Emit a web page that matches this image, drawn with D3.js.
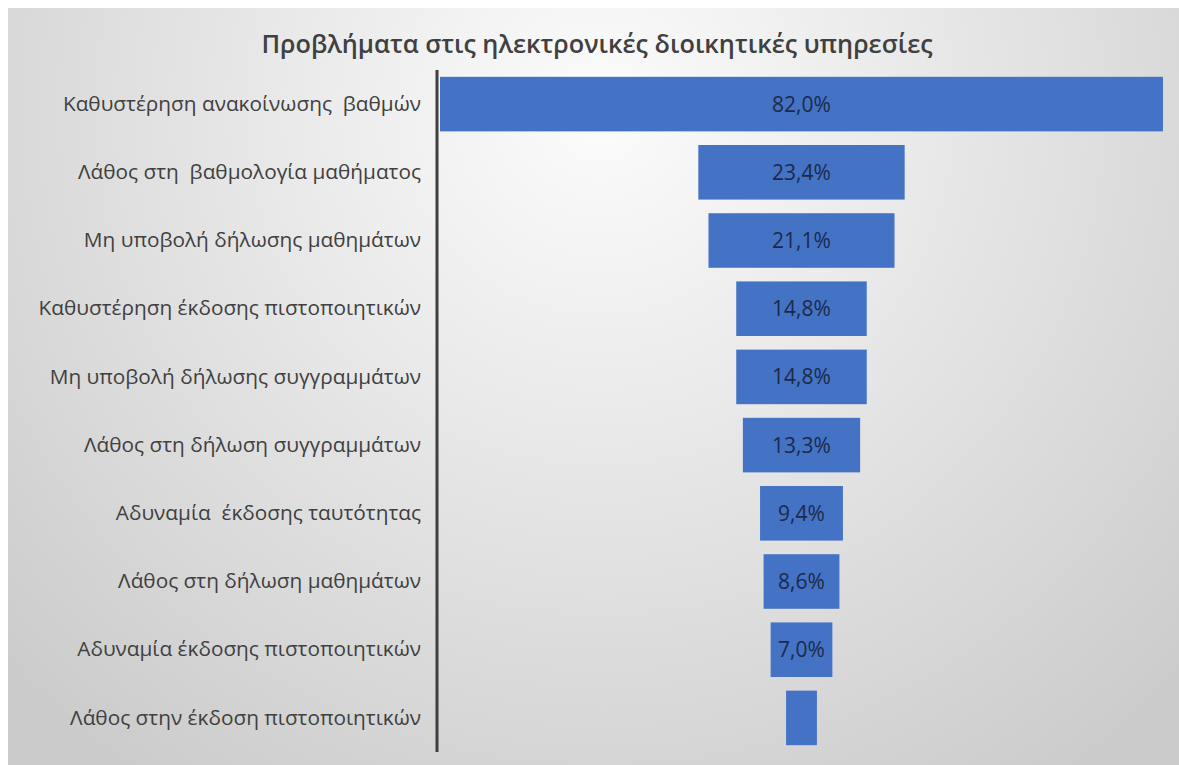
<!DOCTYPE html>
<html>
<head>
<meta charset="utf-8">
<script src="https://cdn.jsdelivr.net/npm/d3@7/dist/d3.min.js"></script>
<style>
  html, body { margin: 0; padding: 0; background: #ffffff; }
  svg { display: block; }
  svg text { white-space: pre; }
</style>
</head>
<body>
<svg id="chart" width="1179" height="765"></svg>
<script>
// Problems reported with the electronic administrative services (share of respondents, %)
const categories = [
  "Καθυστέρηση ανακοίνωσης  βαθμών",
  "Λάθος στη  βαθμολογία μαθήματος",
  "Μη υποβολή δήλωσης μαθημάτων",
  "Καθυστέρηση έκδοσης πιστοποιητικών",
  "Μη υποβολή δήλωσης συγγραμμάτων",
  "Λάθος στη δήλωση συγγραμμάτων",
  "Αδυναμία  έκδοσης ταυτότητας",
  "Λάθος στη δήλωση μαθημάτων",
  "Αδυναμία έκδοσης πιστοποιητικών",
  "Λάθος στην έκδοση πιστοποιητικών"
];
const values = [82.0, 23.4, 21.1, 14.8, 14.8, 13.3, 9.4, 8.6, 7.0, 3.5];
// the last bar carries no data label
const showLabel = [true, true, true, true, true, true, true, true, true, false];
const title = "Προβλήματα στις ηλεκτρονικές διοικητικές υπηρεσίες";

const svg = d3.select("#chart");
const W = 1179, H = 765;

// chart area background: soft radial grey gradient
const defs = svg.append("defs");
const grad = defs.append("radialGradient")
  .attr("id", "bg")
  .attr("gradientUnits", "userSpaceOnUse")
  .attr("cx", 600).attr("cy", 110).attr("r", 820);
grad.append("stop").attr("offset", "0%").attr("stop-color", "#fcfcfc");
grad.append("stop").attr("offset", "35%").attr("stop-color", "#ebebeb");
grad.append("stop").attr("offset", "100%").attr("stop-color", "#cbcbcb");

svg.append("rect")
  .attr("x", 8).attr("y", 8)
  .attr("width", W - 8).attr("height", H - 8)
  .attr("fill", "url(#bg)");

const fontFamily = "'Open Sans', 'Noto Sans', 'DejaVu Sans', sans-serif";

// title
svg.append("text")
  .attr("x", 597).attr("y", 53)
  .attr("text-anchor", "middle")
  .attr("font-family", fontFamily)
  .attr("font-weight", 600)
  .attr("font-size", 25.3)
  .attr("fill", "#404040")
  .text(title);

// scales: funnel bars centred on zero
const maxV = d3.max(values);
const x = d3.scaleLinear()
  .domain([-maxV / 2, maxV / 2])
  .range([440, 1163]);

const y = d3.scaleBand()
  .domain(categories)
  .range([70, 752])
  .paddingInner(0.2)
  .paddingOuter(0.1);

// category axis on the left
const yAxis = d3.axisLeft(y).tickSize(0).tickPadding(16);
const gAxis = svg.append("g")
  .attr("transform", "translate(437,0)")
  .call(yAxis);
gAxis.select(".domain")
  .attr("stroke", "#3f3f3f")
  .attr("stroke-width", 3)
  .attr("d", `M0,${y.range()[0]}V${y.range()[1]}`);
gAxis.selectAll("text")
  .attr("font-family", fontFamily)
  .attr("font-size", 20.8)
  .attr("fill", "#404040");

// bars
svg.append("g")
  .selectAll("rect")
  .data(values)
  .join("rect")
  .attr("x", d => x(-d / 2))
  .attr("y", (d, i) => y(categories[i]))
  .attr("width", d => x(d / 2) - x(-d / 2))
  .attr("height", y.bandwidth())
  .attr("fill", "#4472c4");

// value labels
const fmt = v => v.toFixed(1).replace(".", ",") + "%";
svg.append("g")
  .selectAll("text")
  .data(values)
  .join("text")
  .filter((d, i) => showLabel[i])
  .attr("x", x(0))
  .attr("y", (d, i) => y(categories[i]) + y.bandwidth() / 2)
  .attr("dy", "0.36em")
  .attr("text-anchor", "middle")
  .attr("font-family", fontFamily)
  .attr("font-size", 21)
  .attr("fill", "#1c2a4a")
  .text(d => fmt(d));
</script>
</body>
</html>
